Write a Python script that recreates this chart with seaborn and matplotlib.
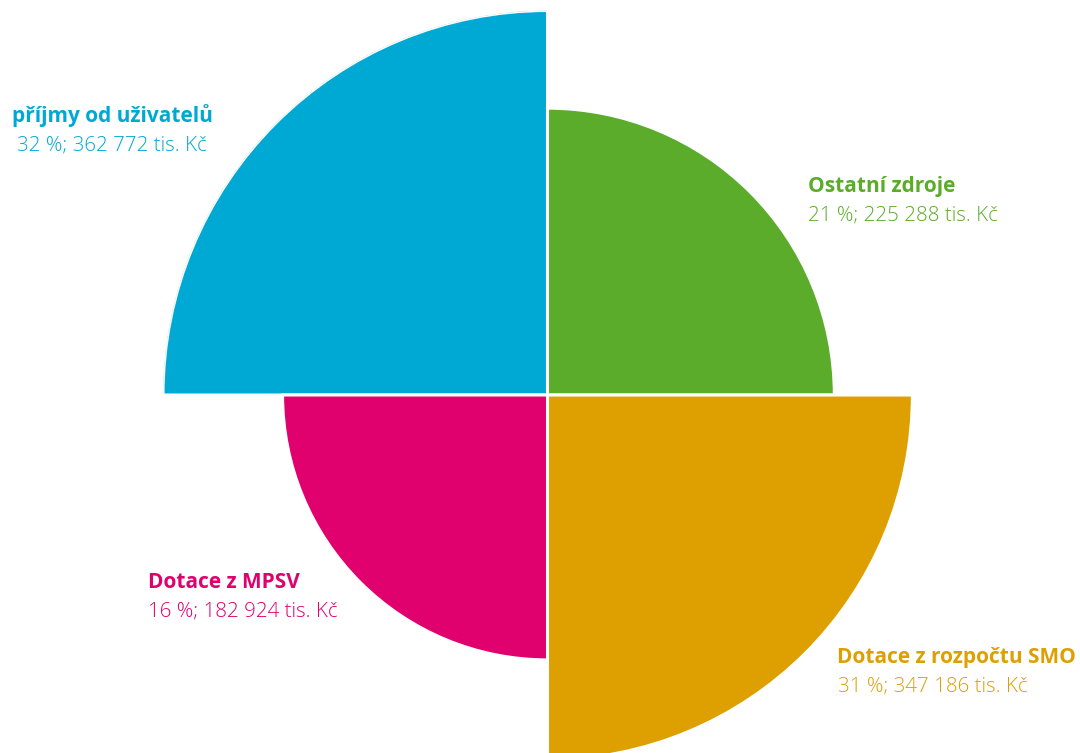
import numpy as np
import matplotlib
matplotlib.use("Agg")
import matplotlib.pyplot as plt
import seaborn as sns

# data
categories = ["příjmy od uživatelů", "Ostatní zdroje",
              "Dotace z rozpočtu SMO", "Dotace z MPSV"]
shares = [32, 21, 31, 16]
amounts = [362772, 225288, 347186, 182924]
# relative outer radius of each quadrant as drawn in the picture
radius = [100, 74.6, 94.9, 68.9]

colors = ["#00A8D4", "#5BAC2A", "#DDA000", "#E0006E"]

sns.set_theme(style="white")
plt.rcParams['font.family'] = ['Open Sans', 'DejaVu Sans']

W, H = 1080, 753
fig = plt.figure(figsize=(W / 100, H / 100), dpi=100)

# polar axes placed so the pie centre sits at (547.5, 395) px
cx, cy, R = 547.5, 395, 384.5
ax = fig.add_axes([(cx - R) / W, (H - cy - R) / H, 2 * R / W, 2 * R / H],
                  projection='polar')
ax.set_theta_zero_location('N')
ax.set_theta_direction(-1)

theta = np.deg2rad(-45 + 90 * np.arange(len(categories)))
ax.bar(theta, radius, width=np.pi / 2, color=colors,
       edgecolor='white', linewidth=2.2, align='center')
ax.set_ylim(0, 100)
ax.set_axis_off()

# label anchor points in pixels (left x, title baseline y)
label_xy = [(12, 122), (808, 192), (837, 663), (148, 588)]
sub_dx = [5, 0, 1, 0]

for cat, sh, amt, col, (lx, ly), dx in zip(categories, shares, amounts,
                                            colors, label_xy, sub_dx):
    fig.text(lx / W, 1 - ly / H, cat, color=col, fontsize=15,
             fontweight='bold', va='baseline', ha='left')
    amt_txt = f"{amt:,}".replace(",", " ")
    fig.text((lx + dx) / W, 1 - (ly + 29) / H,
             f"{sh} %; {amt_txt} tis. Kč", color=col, fontsize=14.8,
             fontweight='light', va='baseline', ha='left')

fig.savefig("out.png", dpi=100)
